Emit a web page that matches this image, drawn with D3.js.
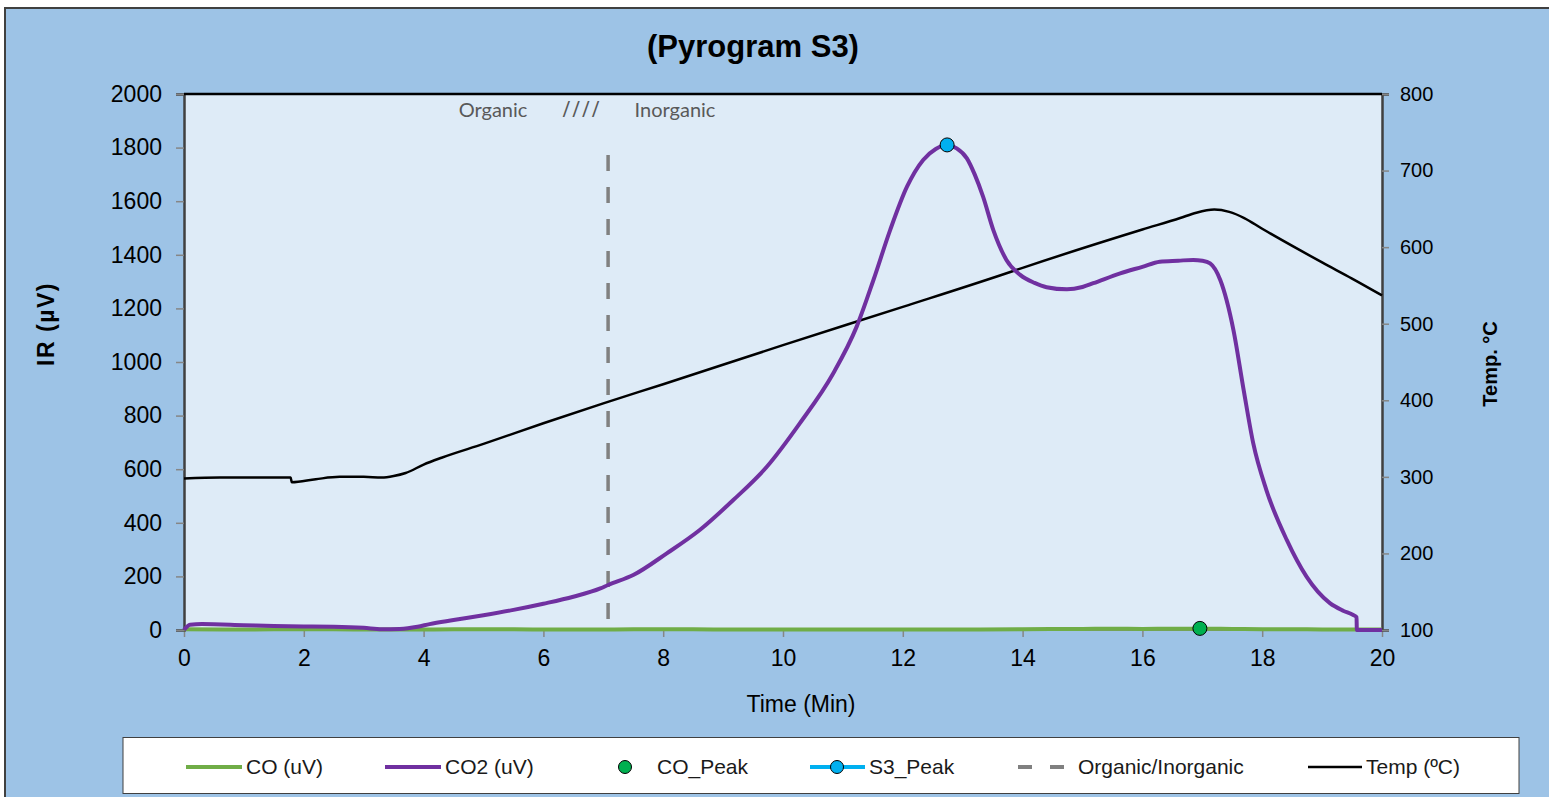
<!DOCTYPE html>
<html>
<head>
<meta charset="utf-8">
<script src="https://cdn.jsdelivr.net/npm/d3@7"></script>
<style>
  html, body { margin: 0; padding: 0; background: #ffffff; }
  svg { display: block; }
</style>
</head>
<body>
<svg id="chart" width="1549" height="797"></svg>
<script>
// ---- Data ----
const timeTicks = [0, 2, 4, 6, 8, 10, 12, 14, 16, 18, 20];
const irTicks = [0, 200, 400, 600, 800, 1000, 1200, 1400, 1600, 1800, 2000];
const tempTicks = [100, 200, 300, 400, 500, 600, 700, 800];

// CO2 signal (uV) against time (min)
const co2Time = [0, 0.1, 0.3, 1.0, 1.5, 2.0, 2.5, 3.0, 3.3, 3.6, 3.9, 4.1, 4.5, 5.0, 5.5, 6.0, 6.5, 6.95, 7.08, 7.5,
  8.06, 8.61, 9.17, 9.73, 10.28, 10.84, 11.23, 11.51, 11.79, 12.07, 12.34, 12.55, 12.73, 12.9, 13.07, 13.2, 13.34,
  13.51, 13.73, 13.96, 14.2, 14.4, 14.74, 15.0, 15.18, 15.63, 16.0, 16.29, 16.6, 16.85, 17.0, 17.13, 17.3, 17.52,
  17.69, 17.85, 18.07, 18.41, 18.74, 19.13, 19.35, 19.52, 19.575, 19.58, 20];
const co2Value = [0, 20, 22, 18, 15, 13, 12, 8, 3, 4, 12, 22, 37, 55, 75, 98, 124, 155, 168, 205,
  286, 373, 485, 609, 771, 958, 1132, 1306, 1493, 1654, 1754, 1795, 1810, 1797, 1760, 1700, 1617,
  1493, 1381, 1325, 1295, 1279, 1271, 1280, 1294, 1331, 1355, 1374, 1378, 1381, 1378, 1368, 1306, 1119,
  896, 697, 522, 336, 199, 100, 72, 56, 48, 0, 0];

// CO signal (uV)
const coTime = [0, 1, 2, 3, 4, 5, 6, 7, 8, 9, 10, 11, 12, 13, 14, 15, 15.5, 16, 16.5, 17, 17.5, 18, 18.5, 19, 19.5, 20];
const coValue = [3, 2, 3, 2, 2, 3, 2, 2, 3, 2, 2, 2, 2, 2, 3, 4, 5, 4, 5, 5, 4, 3, 3, 2, 2, 2];

// Oven temperature (°C)
const tempTime = [0, 0.6, 1.78, 1.8, 2.2, 2.6, 3.0, 3.3, 3.5, 3.7, 4.0, 4.3, 5, 6, 7, 8, 10, 12, 13.62, 14, 16,
  16.63, 16.9, 17.2, 17.45, 17.7, 18, 18.63, 19, 19.5, 20];
const tempValue = [298, 299, 299, 293, 297, 300, 300, 299, 301, 305, 316, 325, 343, 370, 396, 421, 472, 522, 563, 573, 623,
  638, 645, 649, 646, 638, 624, 596, 580, 559, 537];

// Peak markers
const s3Peak = { time: 12.74, value: 1810 };
const coPeak = { time: 16.96, value: 6 };

// Organic / inorganic boundary
const boundaryTime = 7.08;
const boundaryTop = 1772;

// ---- Layout ----
const svg = d3.select("#chart");
const W = 1549, H = 797;
const plot = { left: 184, right: 1382, top: 94, bottom: 630 };

const x = d3.scaleLinear().domain([0, 20]).range([plot.left, plot.right]);
const y = d3.scaleLinear().domain([0, 2000]).range([plot.bottom, plot.top]);
const yT = d3.scaleLinear().domain([100, 800]).range([plot.bottom, plot.top]);

const FONT = "'Liberation Sans', Arial, sans-serif";

// Chart background and frame
svg.append("rect").attr("x", 0).attr("y", 0).attr("width", W).attr("height", H).attr("fill", "#ffffff");
svg.append("rect").attr("x", 5).attr("y", 8).attr("width", W + 10).attr("height", H + 10)
  .attr("fill", "#9dc3e6").attr("stroke", "#404040").attr("stroke-width", 2);

// Plot area
svg.append("rect")
  .attr("x", plot.left).attr("y", plot.top)
  .attr("width", plot.right - plot.left).attr("height", plot.bottom - plot.top)
  .attr("fill", "#deebf7");

// Title
svg.append("text")
  .attr("x", 753).attr("y", 57)
  .attr("text-anchor", "middle")
  .attr("font-family", FONT).attr("font-weight", "bold").attr("font-size", 31)
  .attr("fill", "#000")
  .text("(Pyrogram S3)");

// Axes
function styleAxis(g, size) {
  g.selectAll(".tick line").attr("stroke", "#868686").attr("stroke-width", 1.5);
  g.selectAll(".tick text").attr("font-family", FONT).attr("font-size", size).attr("fill", "#000");
}

const gBottom = svg.append("g")
  .attr("transform", `translate(0,${plot.bottom})`)
  .call(d3.axisBottom(x).tickValues(timeTicks).tickFormat(d3.format("d")).tickSize(7).tickPadding(13));
gBottom.select(".domain").attr("stroke", "#868686").attr("stroke-width", 1);
styleAxis(gBottom, 23);

const gLeft = svg.append("g")
  .attr("transform", `translate(${plot.left},0)`)
  .call(d3.axisLeft(y).tickValues(irTicks).tickFormat(d3.format("d")).tickSize(8).tickPadding(14));
gLeft.select(".domain").attr("stroke", "#404040").attr("stroke-width", 2.5);
styleAxis(gLeft, 23);

const gRight = svg.append("g")
  .attr("transform", `translate(${plot.right},0)`)
  .call(d3.axisRight(yT).tickValues(tempTicks).tickFormat(d3.format("d")).tickSize(7).tickPadding(11));
gRight.select(".domain").attr("stroke", "#404040").attr("stroke-width", 2.5);
styleAxis(gRight, 20);

// Top border of the plot area
svg.append("line")
  .attr("x1", plot.left).attr("x2", plot.right)
  .attr("y1", plot.top).attr("y2", plot.top)
  .attr("stroke", "#000").attr("stroke-width", 2.5);

// Axis titles
svg.append("text")
  .attr("transform", `translate(54,${(plot.top + plot.bottom) / 2 - 38}) rotate(-90)`)
  .attr("text-anchor", "middle")
  .attr("font-family", FONT).attr("font-weight", "bold").attr("font-size", 23)
  .attr("letter-spacing", 1.5)
  .text("IR (µV)");

svg.append("text")
  .attr("transform", `translate(1497,364) rotate(-90)`)
  .attr("text-anchor", "middle")
  .attr("font-family", FONT).attr("font-weight", "bold").attr("font-size", 20)
  .text("Temp. °C");

svg.append("text")
  .attr("x", 801).attr("y", 712)
  .attr("text-anchor", "middle")
  .attr("font-family", FONT).attr("font-size", 23)
  .text("Time (Min)");

// Region annotations
const annot = svg.append("g")
  .attr("font-family", "Lato, 'Open Sans', sans-serif")
  .attr("font-size", 20)
  .attr("fill", "#595959")
  .attr("text-anchor", "middle");
annot.append("text").attr("x", 493).attr("y", 117).text("Organic");
annot.append("text").attr("x", 582).attr("y", 117)
  .attr("font-family", "'Open Sans', sans-serif").attr("font-size", 21)
  .attr("letter-spacing", 2).text("////");
annot.append("text").attr("x", 675).attr("y", 117).text("Inorganic");

// Series
const zip = (ts, vs) => ts.map((t, i) => ({ t, v: vs[i] }));
const coData = zip(coTime, coValue);
const co2Data = zip(co2Time, co2Value);
const tempData = zip(tempTime, tempValue);

const lineIR = d3.line().x(d => x(d.t)).y(d => y(d.v)).curve(d3.curveMonotoneX);
const lineT = d3.line().x(d => x(d.t)).y(d => yT(d.v)).curve(d3.curveMonotoneX);

// Organic / inorganic boundary
svg.append("line")
  .attr("x1", x(boundaryTime)).attr("x2", x(boundaryTime))
  .attr("y1", y(boundaryTop)).attr("y2", y(0))
  .attr("stroke", "#808080").attr("stroke-width", 3.5)
  .attr("stroke-dasharray", "16,16");

svg.append("path").datum(tempData)
  .attr("d", lineT).attr("fill", "none")
  .attr("stroke", "#000").attr("stroke-width", 2.5);

svg.append("path").datum(coData)
  .attr("d", lineIR).attr("fill", "none")
  .attr("stroke", "#70ad47").attr("stroke-width", 4);

svg.append("path").datum(co2Data)
  .attr("d", lineIR).attr("fill", "none")
  .attr("stroke", "#7030a0").attr("stroke-width", 4).attr("stroke-linejoin", "round");

// Peak markers
svg.append("circle")
  .attr("cx", x(coPeak.time)).attr("cy", y(coPeak.value)).attr("r", 7)
  .attr("fill", "#00b050").attr("stroke", "#000").attr("stroke-width", 1);
svg.append("circle")
  .attr("cx", x(s3Peak.time)).attr("cy", y(s3Peak.value)).attr("r", 7)
  .attr("fill", "#00b0f0").attr("stroke", "#000").attr("stroke-width", 1);

// Legend
const legend = svg.append("g");
legend.append("rect")
  .attr("x", 123).attr("y", 737.5).attr("width", 1396).attr("height", 56)
  .attr("fill", "#ffffff").attr("stroke", "#404040").attr("stroke-width", 1);

const legendItems = [
  { label: "CO (uV)", kind: "line", color: "#70ad47", x0: 186, x1: 242, tx: 246 },
  { label: "CO2 (uV)", kind: "line", color: "#7030a0", x0: 385, x1: 441, tx: 445 },
  { label: "CO_Peak", kind: "dot", color: "#00b050", cx: 625, tx: 657 },
  { label: "S3_Peak", kind: "linedot", color: "#00b0f0", x0: 810, x1: 865, cx: 837, tx: 869 },
  { label: "Organic/Inorganic", kind: "dash", color: "#808080", x0: 1018, x1: 1068, tx: 1078 },
  { label: "Temp (ºC)", kind: "line", color: "#000000", x0: 1308, x1: 1362, tx: 1366 }
];
const ly = 767;
legendItems.forEach(it => {
  if (it.kind === "line" || it.kind === "linedot") {
    legend.append("line").attr("x1", it.x0).attr("x2", it.x1).attr("y1", ly).attr("y2", ly)
      .attr("stroke", it.color).attr("stroke-width", it.color === "#000000" ? 2.5 : 4);
  }
  if (it.kind === "dash") {
    legend.append("line").attr("x1", it.x0).attr("x2", it.x1).attr("y1", ly).attr("y2", ly)
      .attr("stroke", it.color).attr("stroke-width", 4).attr("stroke-dasharray", "14,18");
  }
  if (it.kind === "dot" || it.kind === "linedot") {
    legend.append("circle").attr("cx", it.cx).attr("cy", ly).attr("r", 6.5)
      .attr("fill", it.color).attr("stroke", "#000").attr("stroke-width", 1);
  }
  legend.append("text").attr("x", it.tx).attr("y", ly + 7)
    .attr("font-family", FONT).attr("font-size", 21).attr("fill", "#1a1a1a")
    .text(it.label);
});
</script>
</body>
</html>
